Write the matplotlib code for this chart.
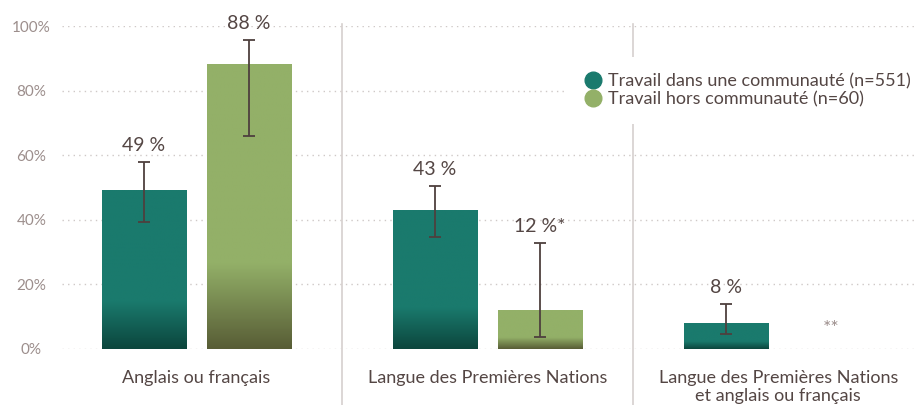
import numpy as np
import matplotlib
matplotlib.use("Agg")
import matplotlib.pyplot as plt
from matplotlib.colors import LinearSegmentedColormap
from matplotlib.lines import Line2D

plt.rcParams['font.family'] = ['Lato', 'DejaVu Sans']

# Data
categories = ["Anglais ou français", "Langue des Premières Nations",
              "Langue des Premières Nations\net anglais ou français"]
series_names = ["Travail dans une communauté (n=551)",
                "Travail hors communauté (n=60)"]
inside = [49, 43, 8]
inside_lo = [39.3, 34.7, 4.6]
inside_hi = [57.9, 50.5, 13.9]
outside = [88, 12, None]
outside_lo = [65.9, 3.7, None]
outside_hi = [95.7, 32.8, None]
inside_labels = ["49 %", "43 %", "8 %"]
outside_labels = ["88 %", "12 %*", "**"]
y_ticks = [0, 20, 40, 60, 80, 100]

# Style
teal = "#1a7a6d"
teal_dark = "#0c463d"
green = "#93b068"
green_dark = "#585d36"
text_col = "#544644"
tick_col = "#9c8e8c"
grid_col = "#cfc9c7"
err_col = "#4e403e"

fig = plt.figure(figsize=(9.16, 4.05), dpi=100)
ax = fig.add_axes([62 / 916, 56 / 405, 854 / 916, 323 / 405])

x = np.arange(len(categories))
off = 0.18
w = 0.289


def grad_bar(xc, h, base, dark):
    cmap = LinearSegmentedColormap.from_list("g", [dark, base, base], N=256)
    # bottom 30% of bar darkens
    t = np.linspace(0, 1, 200)
    t = np.clip(t / 0.3, 0, 1) * 0.5
    img = t.reshape(-1, 1)
    ax.imshow(img, cmap=cmap, vmin=0, vmax=1, origin="lower", aspect="auto",
              extent=[xc - w / 2, xc + w / 2, 0, h], zorder=2,
              interpolation="bilinear")


for i in range(len(categories)):
    xi = x[i] - off
    grad_bar(xi, inside[i], teal, teal_dark)
    ax.errorbar(xi, inside[i],
                yerr=[[inside[i] - inside_lo[i]], [inside_hi[i] - inside[i]]],
                fmt="none", ecolor=err_col, elinewidth=1.3, capsize=4.5,
                capthick=1.3, zorder=3)
    ax.annotate(inside_labels[i], (xi, inside_hi[i]), xytext=(0, 6),
                textcoords="offset points", ha="center", va="bottom",
                fontsize=14, color=text_col, zorder=4)

    xo = x[i] + off
    if outside[i] is not None:
        grad_bar(xo, outside[i], green, green_dark)
        ax.errorbar(xo, outside[i],
                    yerr=[[outside[i] - outside_lo[i]], [outside_hi[i] - outside[i]]],
                    fmt="none", ecolor=err_col, elinewidth=1.3, capsize=4.5,
                    capthick=1.3, zorder=3)
        ax.annotate(outside_labels[i], (xo, outside_hi[i]), xytext=(0, 6),
                    textcoords="offset points", ha="center", va="bottom",
                    fontsize=14, color=text_col, zorder=4)
    else:
        ax.text(xo, 6.5, outside_labels[i], ha="center", va="center",
                fontsize=14, color=tick_col)

# group separators
for s in [0.5, 1.5]:
    ax.plot([s, s], [-17.5, 100.5], color="#d6d0ce", lw=1.2, clip_on=False,
            zorder=1)

ax.set_xlim(-0.462, 2.473)
ax.set_ylim(0, 100)
ax.set_yticks(y_ticks)
ax.set_yticklabels([f"{v}%" for v in y_ticks])
ax.yaxis.grid(True, linestyle=(0, (1, 3)), color=grid_col, lw=1)
ax.set_axisbelow(True)
ax.tick_params(axis="y", length=0, pad=22, labelsize=11, labelcolor=tick_col)
for lab in ax.get_yticklabels():
    lab.set_horizontalalignment("center")
ax.set_xticks(x)
ax.set_xticklabels(categories, fontsize=13, color=text_col, linespacing=1.2)
ax.tick_params(axis="x", length=0, pad=15)
for sp in ax.spines.values():
    sp.set_visible(False)

handles = [Line2D([], [], marker="o", ls="none", ms=12, color=teal),
           Line2D([], [], marker="o", ls="none", ms=12, color=green)]
leg = ax.legend(handles, series_names, loc="upper left",
                bbox_to_anchor=(566 / 916, 1 - 57 / 405),
                bbox_transform=fig.transFigure,
                frameon=True, fontsize=13, handletextpad=0.2,
                labelspacing=0.1, borderpad=0.9, handlelength=1.2,
                borderaxespad=0, labelcolor=text_col)
leg.get_frame().set_facecolor("white")
leg.get_frame().set_edgecolor("none")
leg.get_frame().set_alpha(1)
leg.get_frame().set_boxstyle("square", pad=0)
leg.set_zorder(5)

fig.savefig("out.png", dpi=100)
